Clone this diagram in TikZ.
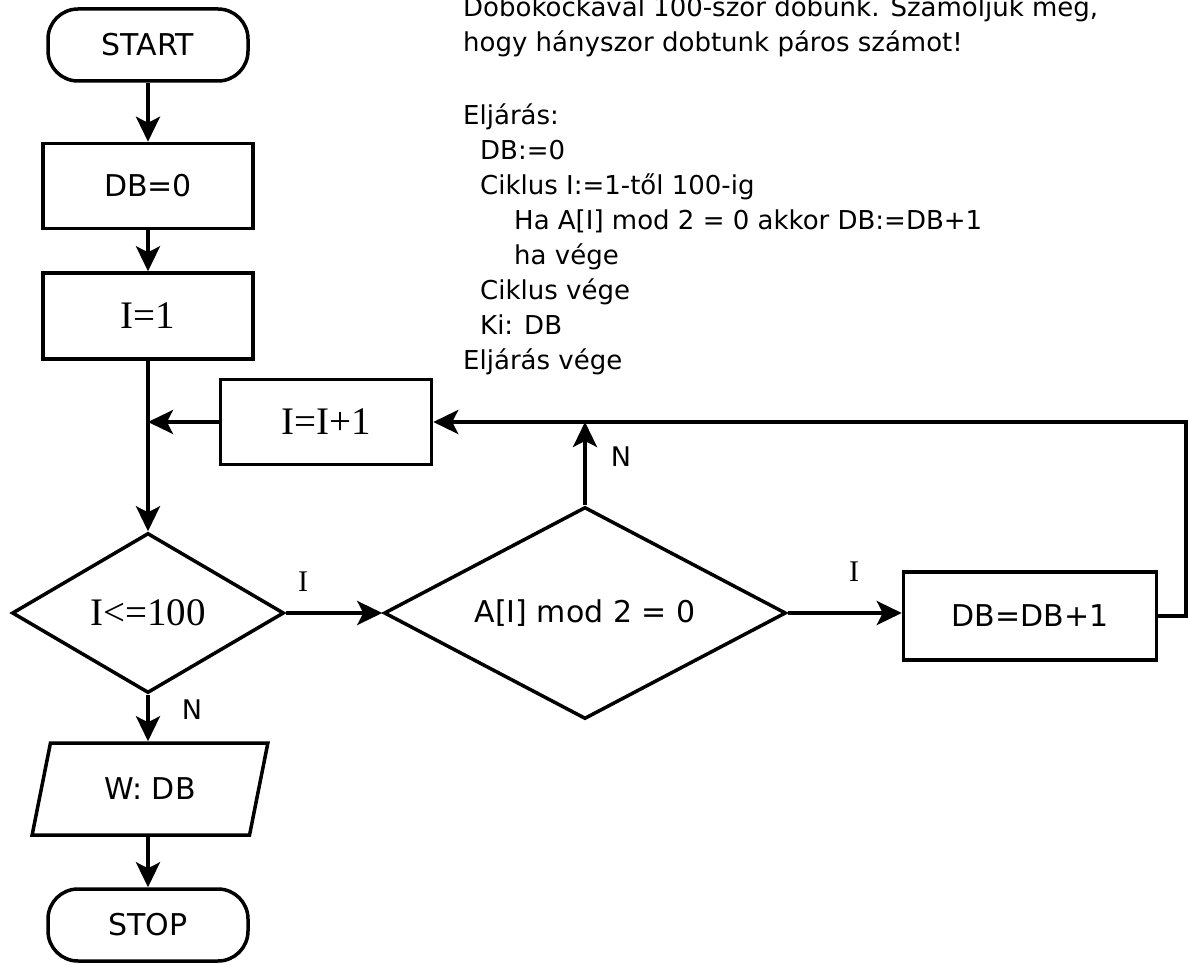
\documentclass[tikz,border=0pt]{standalone}
\usepackage{fontspec}
\setmainfont{DejaVu Sans}
\newfontfamily\serfont{Liberation Serif}
\usetikzlibrary{arrows.meta,shapes.geometric}
\tikzset{
  every node/.style={font=\fontsize{30}{36}\selectfont},
  ser/.style={font=\fontsize{39}{44}\selectfont\serfont},
  box/.style={draw, line width=3.5pt, rectangle, inner sep=0pt},
  term/.style={draw, line width=3.5pt, rectangle, rounded corners=30pt, inner sep=0pt, minimum width=200pt, minimum height=72pt},
  dia/.style={draw, line width=3.5pt, diamond, inner sep=0pt},
  io/.style={draw, line width=3.5pt, trapezium, trapezium left angle=69, trapezium right angle=111, trapezium stretches=true, inner sep=0pt},
  conn/.style={line width=3.5pt, -{Stealth[length=25pt, width=24pt, inset=6pt]}},
  lbl/.style={font=\fontsize{27}{32}\selectfont},
  desc/.style={font=\fontsize{26}{35}\selectfont, anchor=north west, align=left, inner sep=0pt},
}
\begin{document}
\begin{tikzpicture}[x=1pt, y=-1pt]
\useasboundingbox (0,0) rectangle (1188,965);
% description text
\node[desc] (txt1) at (463,-4) {Dobókockával 100-szor dobunk. Számoljuk meg,\\hogy hányszor dobtunk páros számot!};
\node[desc] (txt2) at (463,104) {Eljárás:\\
\hspace{17pt}DB:=0\\
\hspace{17pt}Ciklus I:=1-től 100-ig\\
\hspace{51pt}Ha A[I] mod 2 = 0 akkor DB:=DB+1\\
\hspace{51pt}ha vége\\
\hspace{17pt}Ciklus vége\\
\hspace{17pt}Ki: DB\\
Eljárás vége};
% nodes
\node[term] (start) at (148,45) {START};
\node[box, minimum width=210pt, minimum height=85pt] (db0) at (148,186) {DB=0};
\node[box, minimum width=210pt, minimum height=86pt] (i1) at (148,316) {\fontsize{39}{44}\selectfont\serfont I=1};
\node[box, minimum width=211pt, minimum height=85pt] (inc) at (326,422) {\fontsize{39}{44}\selectfont\serfont I=I+1};
\node[dia, aspect=1.7, minimum width=272pt, minimum height=160pt] (d1) at (148,613) {\fontsize{39}{44}\selectfont\serfont I<=100};
\node[dia, aspect=1.9, minimum width=402pt, minimum height=212pt] (d2) at (585,613) {A[I] mod 2 = 0};
\node[box, minimum width=253pt, minimum height=88pt] (dbb) at (1030,616) {DB=DB+1};
\node[io, minimum width=236pt, minimum height=92pt] (out) at (150,789) {W: DB};
\node[term] (stop) at (148,925) {STOP};
% connectors
\coordinate (j1) at (i1.south |- inc.west);
\coordinate (rc) at (1186,616);
\draw[conn] (start) -- (db0);
\draw[conn] (db0) -- (i1);
\draw[conn] (i1.south) -- (d1.north);
\draw[conn] (inc.west) -- (j1);
\draw[conn] (d1.east) -- (d2.west);
\draw[conn] (d2.north) -- (d2.north |- inc.east);
\draw[conn] (d2.east) -- (d2.east -| dbb.west);
\draw[conn] (dbb.east) -- (rc) |- (inc.east);
\draw[conn] (d1.south) -- (d1.south |- out.north);
\draw[conn] (out.south -| stop.north) -- (stop.north);
% labels
\node[lbl] (l1) at (303,582) {\fontsize{30}{36}\selectfont\serfont I};
\node[lbl] (l2) at (621,457) {N};
\node[lbl] (l3) at (854,572) {\fontsize{30}{36}\selectfont\serfont I};
\node[lbl] (l4) at (192,710) {N};
\end{tikzpicture}
\end{document}
